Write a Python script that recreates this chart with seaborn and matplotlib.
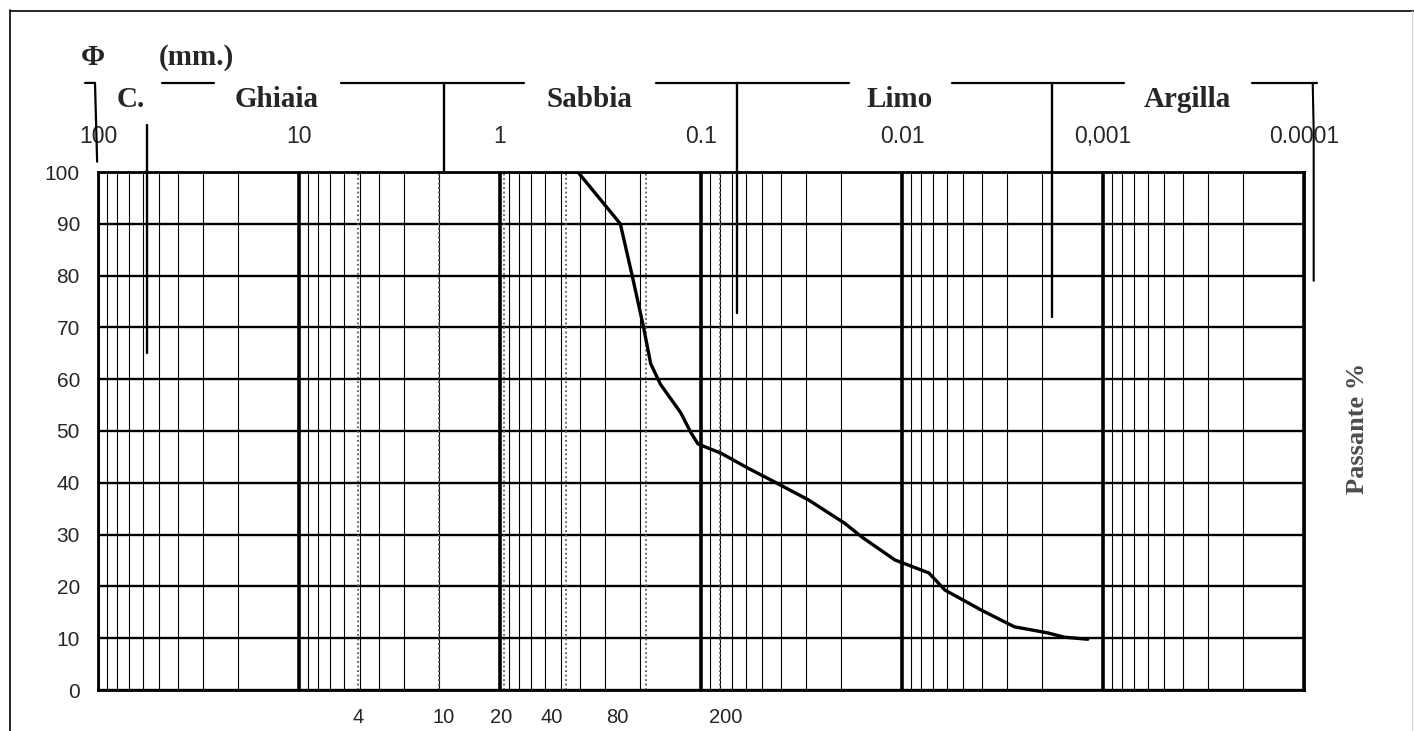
import matplotlib
matplotlib.use("Agg")
import matplotlib.pyplot as plt
import numpy as np
import pandas as pd
import seaborn as sns
from matplotlib.lines import Line2D
from matplotlib.ticker import FixedLocator, LogLocator, NullFormatter

OUTPUT_FIGURE_PATH = "out.png"

# grain size curve (diameter in mm, passing %)
diameter_mm = [0.85, 0.41, 0.252, 0.220, 0.193, 0.178, 0.159, 0.126, 0.112, 0.1035,
               0.0794, 0.0582, 0.0447, 0.0292, 0.0193, 0.0158, 0.01084, 0.00735,
               0.00612, 0.00402, 0.00276, 0.00187, 0.00156, 0.00119]
passing_pct = [100, 100, 90, 80, 70, 63, 59, 53.5, 49.6, 47.5,
               45.7, 42.8, 40.5, 36.7, 32.2, 29.5, 25.1, 22.6,
               19.3, 15.4, 12.2, 11.0, 10.2, 9.8]

decade_ticks = [100, 10, 1, 0.1, 0.01, 0.001, 0.0001]
decade_labels = ["100", "10", "1", "0.1", "0.01", "0,001", "0.0001"]

sieve_numbers = ["4", "10", "20", "40", "80", "200"]
sieve_lines_mm = [5.1, 2.0, 0.95, 0.47, 0.187, 0.08]
sieve_label_mm = [5.1, 1.9, 0.99, 0.55, 0.26, 0.075]

class_names = ["C.", "Ghiaia", "Sabbia", "Limo", "Argilla"]
class_label_mm = [69, 12.9, 0.36, 0.0103, 0.00038]
class_bounds_mm = [57, 1.9, 0.066, 0.0018]
class_bound_bottom = [65, 100, 72.8, 72]

# pieces of the bracket line above the classes (mm)
bracket_segments = [(47.9, 26.6), (6.2, 0.757), (0.168, 0.0184),
                    (0.00565, 0.000787), (0.000181, 0.0000862)]

SANS = ["Liberation Sans", "DejaVu Sans"]
SERIF = ["Liberation Serif", "DejaVu Serif"]


def main():
    sns.set_style("white")
    plt.rcParams["font.family"] = SANS

    fig = plt.figure(figsize=(14.14, 7.31), dpi=100)
    ax = fig.add_axes([98 / 1414, 1 - 690 / 731, 1206 / 1414, 518 / 731])
    ax.set_xscale("log")
    ax.set_xlim(100, 0.0001)
    ax.set_ylim(0, 100)

    ax.xaxis.set_major_locator(FixedLocator(decade_ticks))
    ax.xaxis.set_minor_locator(LogLocator(base=10, subs=np.arange(2, 10), numticks=50))
    ax.xaxis.set_minor_formatter(NullFormatter())
    ax.set_xticklabels(decade_labels)
    ax.set_yticks(range(0, 101, 10))
    ax.tick_params(axis="x", which="both", top=True, bottom=False, labeltop=True,
                   labelbottom=False, length=0, pad=17, labelsize=16.5, labelcolor="0.15")
    ax.tick_params(axis="y", length=0, pad=13, labelsize=15, labelcolor="0.15")

    ax.grid(which="major", axis="y", color="black", lw=1.7)
    ax.grid(which="minor", axis="x", color="black", lw=0.8)
    ax.grid(which="major", axis="x", color="black", lw=2.6)
    for side in ax.spines.values():
        side.set_color("black")
        side.set_linewidth(2)

    for s in sieve_lines_mm:
        ax.axvline(s, color="0.35", lw=1.3, ls=(0, (1, 1.5)))

    df = pd.DataFrame({"d": diameter_mm, "p": passing_pct})
    sns.lineplot(data=df, x="d", y="p", sort=False, color="black", lw=2.4, ax=ax)
    ax.set_xlabel("")
    ax.set_ylabel("")

    # class brackets above the chart
    top = 117.2
    for a, b in bracket_segments:
        ax.plot([a, b], [top, top], color="black", lw=1.6, clip_on=False)
    ax.plot([116, 103.5, 101], [top, top, 102], color="black", lw=1.6, clip_on=False)
    ax.plot([0.0000905, 0.0000895, 0.0000895], [top, 108, 79], color="black", lw=1.5, clip_on=False)
    for b, y0 in zip(class_bounds_mm, class_bound_bottom):
        y_start = 109 if b == class_bounds_mm[0] else top
        ax.plot([b, b], [y_start, y0], color="black", lw=1.7, clip_on=False)
    for name, x in zip(class_names, class_label_mm):
        ax.text(x, 113.9, name, ha="center", va="center", fontsize=21,
                fontweight="bold", family=SERIF)

    ax.text(106, 122.2, "Φ", ha="center", va="center", fontsize=21,
            fontweight="bold", family=SERIF)
    ax.text(32.4, 122.2, "(mm.)", ha="center", va="center", fontsize=21,
            fontweight="bold", family=SERIF)

    for lab, x in zip(sieve_numbers, sieve_label_mm):
        ax.text(x, -5.4, lab, ha="center", va="center", fontsize=14.5, color="0.15")

    ax.text(1.044, 0.506, "Passante %", transform=ax.transAxes, rotation=90,
            ha="center", va="center", fontsize=19, fontweight="bold",
            color="0.3", family=SERIF)

    # scan border
    fig.add_artist(Line2D([10 / 1414, 10 / 1414], [0, 1 - 10 / 731], color="black", lw=1.2))
    fig.add_artist(Line2D([10 / 1414, 1], [1 - 11 / 731, 1 - 11 / 731], color="black", lw=1.2))
    fig.add_artist(Line2D([1412 / 1414, 1412 / 1414], [0, 1 - 11 / 731], color="0.85", lw=1))

    fig.savefig(OUTPUT_FIGURE_PATH, dpi=100)
    print(f"Saved figure to {OUTPUT_FIGURE_PATH}")


if __name__ == "__main__":
    main()
